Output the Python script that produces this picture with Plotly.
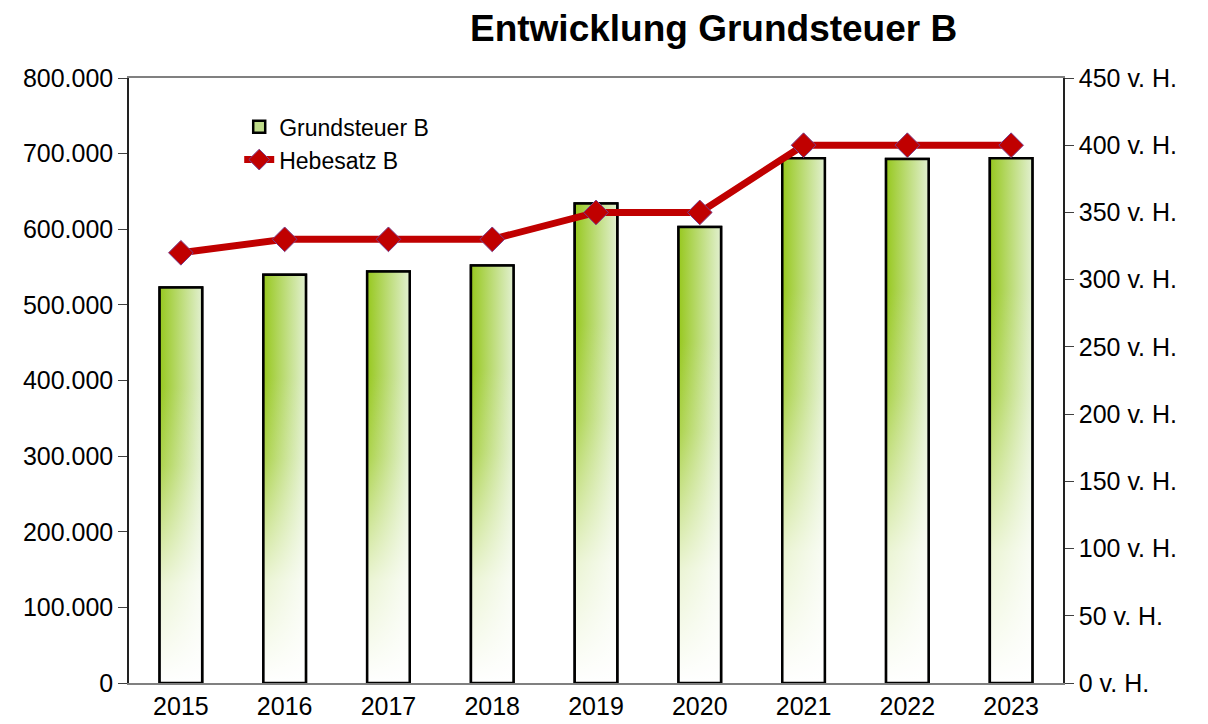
import plotly.graph_objects as go

# data
years = [2015, 2016, 2017, 2018, 2019, 2020, 2021, 2022, 2023]
grundsteuer_b = [523000, 540000, 544000, 552000, 634000, 603000, 694000, 693000, 694000]
hebesatz_b = [320, 330, 330, 330, 350, 350, 400, 400, 400]

bar_width = 0.41
font = "Liberation Sans, Arial, sans-serif"
green_h = [[0, "#97c81f"], [1, "#e2f0d0"]]
white_v = [[0, "rgba(255,255,255,1)"], [0.25, "rgba(255,255,255,0.8)"],
           [0.55, "rgba(255,255,255,0.2)"], [0.75, "rgba(255,255,255,0)"],
           [1, "rgba(255,255,255,0)"]]

fig = go.Figure()

# the actual bars (covered by the gradient boxes drawn from the same values)
fig.add_trace(go.Bar(
    x=years, y=grundsteuer_b, width=bar_width, name="Grundsteuer B",
    marker=dict(color="#bfdc8a", line=dict(color="black", width=2.5)),
))

# gradient fills: horizontal green->pale, then a white fade towards the bottom
for yr, val in zip(years, grundsteuer_b):
    x0, x1 = yr - bar_width / 2, yr + bar_width / 2
    box_x = [x0, x1, x1, x0, x0]
    box_y = [0, 0, val, val, 0]
    fig.add_trace(go.Scatter(
        x=box_x, y=box_y, mode="lines", fill="toself",
        fillgradient=dict(type="horizontal", colorscale=green_h, start=x0, stop=x1),
        line=dict(color="rgba(0,0,0,0)", width=0),
        showlegend=False, hoverinfo="skip",
    ))
    fig.add_trace(go.Scatter(
        x=box_x, y=box_y, mode="lines", fill="toself",
        fillgradient=dict(type="vertical", colorscale=white_v, start=0, stop=val),
        line=dict(color="black", width=2.5),
        showlegend=False, hoverinfo="skip",
    ))

fig.add_trace(go.Scatter(
    x=years, y=hebesatz_b, yaxis="y2", name="Hebesatz B", mode="lines+markers",
    line=dict(color="#c00000", width=7),
    marker=dict(symbol="diamond", size=19, color="#c00000",
                line=dict(color="#7b3f8a", width=1)),
))

xr = [2014.5, 2023.5]
bounds = [y - 0.5 for y in years] + [years[-1] + 0.5]
tickfont = dict(family=font, size=25, color="black")

# the page has an 8px body margin, so the figure is 8px smaller and margins shifted
fig.update_layout(
    width=1200, height=716,
    paper_bgcolor="white", plot_bgcolor="white",
    margin=dict(l=121, r=145, t=70, b=41),
    separators=",.",
    font=dict(family=font, color="black"),
    title=dict(text="<b>Entwicklung Grundsteuer B</b>", x=0.588, xanchor="center",
               xref="container", y=0.99, yanchor="top", yref="container",
               font=dict(family=font, size=37, color="black")),
    legend=dict(x=0.118, y=0.955, xanchor="left", yanchor="top",
                bgcolor="rgba(0,0,0,0)", font=dict(family=font, size=23),
                tracegroupgap=0),
    xaxis=dict(range=xr, tickvals=years, ticktext=[str(y) for y in years],
               ticks="", showgrid=False, zeroline=False, tickfont=tickfont,
               showline=True, linecolor="#808080", linewidth=1.5, mirror=True,
               automargin=False),
    xaxis2=dict(overlaying="x", anchor="y", range=xr, tickvals=bounds, ticks="outside",
                ticklen=8, tickcolor="#808080", showticklabels=False,
                showgrid=False, zeroline=False, showline=False),
    xaxis3=dict(overlaying="x", anchor="y", range=xr, tickvals=bounds, ticks="inside",
                ticklen=7, tickcolor="#808080", showticklabels=False,
                showgrid=False, zeroline=False, showline=False),
    yaxis=dict(range=[0, 800000], dtick=100000, tickformat=",d", ticks="outside",
               ticklen=9, tickcolor="#404040", showgrid=False, zeroline=False,
               showline=True, linecolor="#222222", linewidth=1.5, tickfont=tickfont,
               automargin=False),
    yaxis2=dict(overlaying="y", side="right", range=[0, 450], dtick=50,
                ticksuffix=" v. H.", ticks="outside", ticklen=9, tickcolor="#404040",
                showgrid=False, zeroline=False, showline=True, linecolor="#222222",
                linewidth=1.5, tickfont=tickfont, automargin=False),
    yaxis3=dict(overlaying="y", anchor="x", range=[0, 800000], dtick=100000,
                ticks="inside", ticklen=7, tickcolor="#404040", showticklabels=False,
                showgrid=False, zeroline=False, showline=False),
    yaxis4=dict(overlaying="y", anchor="x", side="right", range=[0, 450], dtick=50,
                ticks="inside", ticklen=7, tickcolor="#404040", showticklabels=False,
                showgrid=False, zeroline=False, showline=False),
)

fig.write_html("out.html")
